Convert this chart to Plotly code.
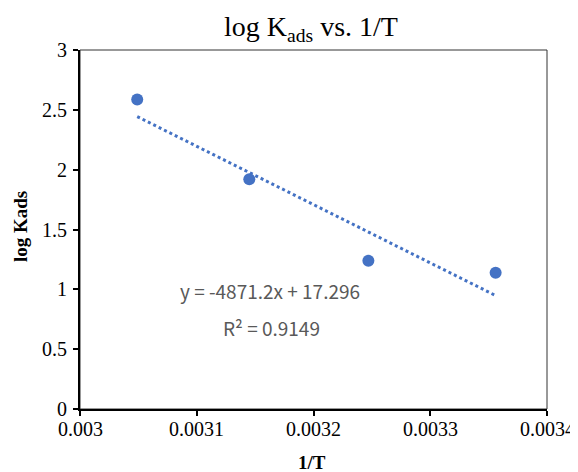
import plotly.graph_objects as go

# Data
inv_T = [0.003049, 0.003145, 0.003247, 0.003356]
log_kads = [2.587, 1.919, 1.239, 1.139]
slope = -4871.2
intercept = 17.296
r_squared = 0.9149
x_ticks = [0.003, 0.0031, 0.0032, 0.0033, 0.0034]
x_tick_labels = ["0.003", "0.0031", "0.0032", "0.0033", "0.0034"]
y_ticks = [0, 0.5, 1, 1.5, 2, 2.5, 3]
y_tick_labels = ["0", "0.5", "1", "1.5", "2", "2.5", "3"]

BLUE = "#4472C4"
SERIF = "Liberation Serif"

trend_x = [min(inv_T), max(inv_T)]
trend_y = [slope * v + intercept for v in trend_x]

fig = go.Figure()
fig.add_trace(go.Scatter(
    x=trend_x, y=trend_y, mode="lines",
    line=dict(color=BLUE, width=3, dash="3px,3px"),
    hoverinfo="skip", showlegend=False,
))
fig.add_trace(go.Scatter(
    x=inv_T, y=log_kads, mode="markers",
    marker=dict(color=BLUE, size=12, line=dict(width=0)),
    showlegend=False,
))

# page has an 8px body margin; figure occupies 8..578 in the screenshot
OFF = 8
W, H = 578 - OFF, 472 - OFF
L, R, T, B = 80 - OFF, 31, 50 - OFF, 63
pw, ph = W - L - R, H - T - B

def px(xp):
    return (xp - OFF - L) / pw

def py(yp):
    return (H - B - (yp - OFF)) / ph

annotations = []
# tick labels drawn in serif at the axis tick positions
for v, s in zip(x_ticks, x_tick_labels):
    annotations.append(dict(
        text=s, x=v, xref="x", y=0, yref="paper", yshift=-20,
        showarrow=False, xanchor="center", yanchor="middle",
        font=dict(family=SERIF, size=20, color="black")))
for v, s in zip(y_ticks, y_tick_labels):
    annotations.append(dict(
        text=s, x=0, xref="paper", xshift=-11, y=v, yref="y",
        showarrow=False, xanchor="right", yanchor="middle",
        font=dict(family=SERIF, size=20, color="black")))
# axis titles
annotations.append(dict(
    text="<b>1/T</b>", x=px(312), y=py(462), xref="paper", yref="paper",
    showarrow=False, xanchor="center", yanchor="middle",
    font=dict(family=SERIF, size=19, color="black")))
annotations.append(dict(
    text="<b>log Kads</b>", x=px(20), y=py(227), xref="paper", yref="paper",
    showarrow=False, xanchor="center", yanchor="middle", textangle=-90,
    font=dict(family=SERIF, size=19, color="black")))
# trendline equation
annotations.append(dict(
    text=f"y = {slope}x + {intercept}", xref="paper", yref="paper",
    x=px(270), y=py(290), showarrow=False, xanchor="center", yanchor="middle",
    font=dict(family="Noto Sans CJK KR", size=19, color="#595959")))
annotations.append(dict(
    text=f"R² = {r_squared}", xref="paper", yref="paper",
    x=px(271), y=py(327), showarrow=False, xanchor="center", yanchor="middle",
    font=dict(family="Noto Sans CJK KR", size=19, color="#595959")))

fig.update_layout(
    template="none",
    width=W, height=H,
    margin=dict(l=L, r=R, t=T, b=B, autoexpand=False),
    paper_bgcolor="white", plot_bgcolor="white",
    font=dict(family=SERIF, size=20, color="black"),
    title=dict(
        text="log K<sub>ads</sub> vs. 1/T",
        font=dict(family=SERIF, size=28, color="black"),
        x=px(311), xref="paper", xanchor="center",
        y=1 - (26 - OFF) / H, yref="container", yanchor="middle",
    ),
    xaxis=dict(
        range=[0.003, 0.0034],
        tickmode="array", tickvals=x_ticks, showticklabels=False,
        showgrid=False, zeroline=False, automargin=False,
        showline=True, linecolor="black", linewidth=2,
        ticks="outside", ticklen=5, tickwidth=1.5, tickcolor="black",
    ),
    yaxis=dict(
        range=[0, 3],
        tickmode="array", tickvals=y_ticks, showticklabels=False,
        showgrid=False, zeroline=False, automargin=False,
        showline=True, linecolor="black", linewidth=2,
        ticks="outside", ticklen=5, tickwidth=1.5, tickcolor="black",
    ),
    shapes=[dict(
        type="rect", xref="paper", yref="paper", x0=0, x1=1, y0=0, y1=1,
        line=dict(color="#333333", width=1), layer="below",
    )],
    annotations=annotations,
)

fig.write_html("out.html")
